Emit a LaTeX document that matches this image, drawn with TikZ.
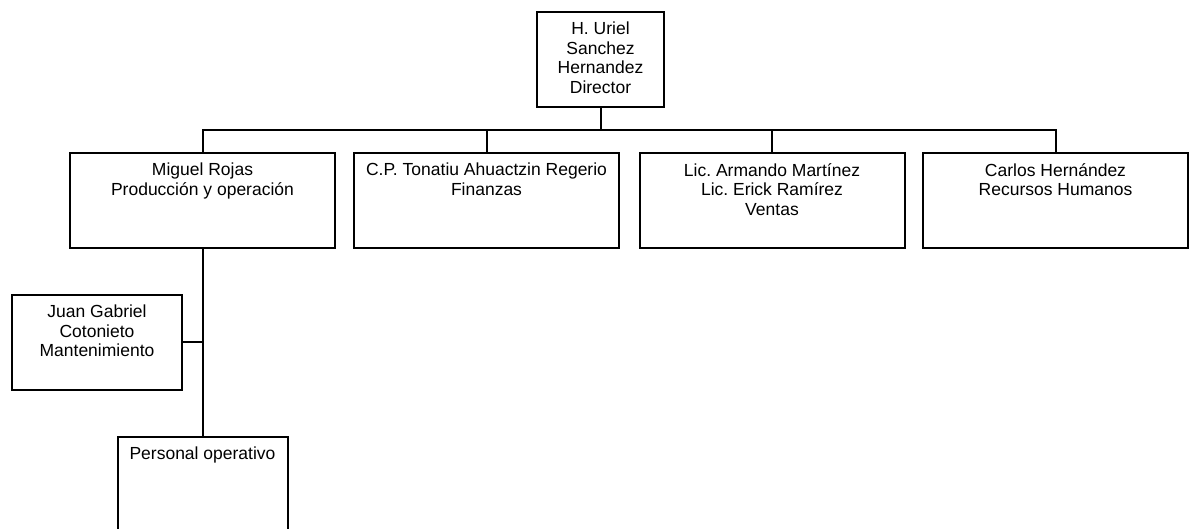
\documentclass[tikz,border=0pt]{standalone}
\usepackage{fontspec}
\setmainfont{Liberation Sans}
\frenchspacing
\usetikzlibrary{positioning}
\tikzset{
  block/.style={
    draw,
    line width=2pt,
    minimum width=265pt,
    minimum height=95pt,
    inner sep=0pt
  },
  smallblock/.style={
    draw,
    line width=2pt,
    minimum width=170pt,
    minimum height=95pt,
    inner sep=0pt
  },
  topblock/.style={
    draw,
    line width=2pt,
    minimum width=127pt,
    minimum height=95pt,
    inner sep=0pt
  },
  boxtext/.style={
    anchor=north,
    align=center,
    inner sep=0pt,
    yshift=-11pt,
    font=\fontsize{17.5}{19.5}\selectfont
  },
  link/.style={draw, line width=2pt}
}
\begin{document}
\begin{tikzpicture}[x=1pt,y=-1pt]
  \useasboundingbox (0,0) rectangle (1189,529);

  \node[topblock, label={[boxtext]north:{H. Uriel\\Sanchez\\Hernandez\\Director}}] (dir) at (600.5,59.5) {};
  \coordinate (bus) at (600.5,130);

  \node[block, label={[boxtext]north:{Miguel Rojas\\Producción y operación}}] (prod) at (202.5,200.5) {};
  \node[block, label={[boxtext]north:{C.P. Tonatiu Ahuactzin Regerio\\Finanzas}}] (fin) at (486.5,200.5) {};
  \node[block, label={[boxtext]north:{Lic. Armando Martínez\\Lic. Erick Ramírez\\Ventas}}] (ventas) at (772,200.5) {};
  \node[block, label={[boxtext]north:{Carlos Hernández\\Recursos Humanos}}] (rh) at (1055.5,200.5) {};

  \node[smallblock, label={[boxtext]north:{Juan Gabriel\\Cotonieto\\Mantenimiento}}] (mant) at (97,342.5) {};
  \node[smallblock, label={[boxtext]north:{Personal operativo}}] (pers) at (202.5,484.5) {};

  % director to the four areas
  \draw[link] (dir.south) -- (bus);
  \draw[link] (prod.north) |- (bus) -| (rh.north);
  \draw[link] (fin.north) -- (fin.north |- bus);
  \draw[link] (ventas.north) -- (ventas.north |- bus);

  % production branch
  \draw[link] (prod.south) -- (pers.north);
  \draw[link] (mant.east) -- (mant.east -| prod.south);
\end{tikzpicture}
\end{document}
